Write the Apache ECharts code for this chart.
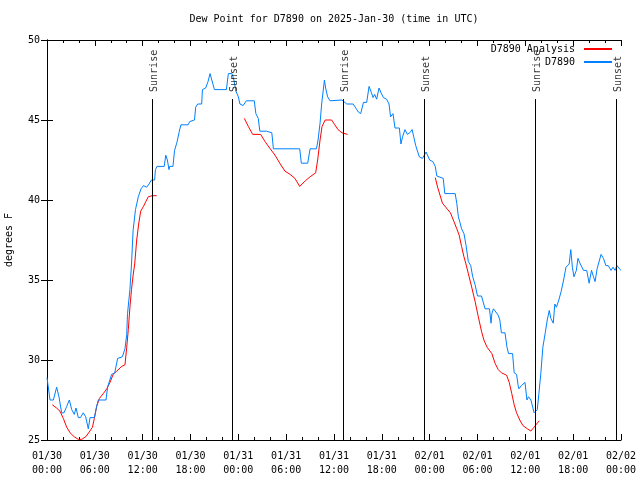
<!DOCTYPE html>
<html><head><meta charset="utf-8">
<script src="https://cdn.jsdelivr.net/npm/echarts@6/dist/echarts.min.js"></script>
<style>html,body{margin:0;padding:0;background:#fff}#c{width:640px;height:480px}</style>
</head><body><div id="c"></div>
<script>
// hours since 2025-01-30 00:00 UTC
const obsHours = [0.0,0.17,0.38,0.8,1.21,1.5,1.84,2.13,2.47,2.8,3.1,3.42,3.64,3.93,4.2,4.55,4.85,5.18,5.4,5.94,6.23,6.44,7.4,7.6,8.1,8.5,8.86,9.45,9.78,10.0,10.1,10.4,10.6,10.8,11.1,11.45,11.8,12.1,12.5,12.8,13.1,13.5,13.6,13.8,14.7,14.9,15.1,15.3,15.4,15.8,16.0,16.3,16.6,16.8,17.7,17.9,18.5,18.65,18.9,19.4,19.5,19.9,20.2,20.45,20.7,21.0,22.5,22.75,23.2,23.45,23.7,24.0,24.2,24.6,25.0,26.0,26.2,26.5,26.7,27.55,28.2,28.4,31.7,31.9,32.7,33.0,33.8,34.0,34.25,34.45,34.8,34.95,35.2,35.5,37.0,37.6,38.4,38.8,39.05,39.35,39.7,40.1,40.4,40.7,40.9,41.1,41.35,41.65,41.9,42.2,42.6,42.9,43.1,43.4,43.65,44.2,44.4,44.6,44.9,45.2,45.5,45.8,46.0,46.25,46.5,46.7,47.1,47.3,47.55,47.75,48.0,48.4,48.7,48.9,49.7,49.9,51.2,51.4,51.6,51.8,52.0,52.3,52.55,52.85,53.15,53.4,53.7,54.0,54.5,54.75,54.95,55.5,55.7,55.8,56.0,56.3,56.6,56.8,57.0,57.45,57.7,57.9,58.4,58.6,58.9,59.1,59.2,59.5,59.7,59.96,60.2,60.4,60.7,60.95,61.1,61.35,61.5,61.7,61.95,62.2,62.5,62.75,63.0,63.2,63.5,63.7,63.9,64.2,64.5,64.8,65.1,65.5,65.7,65.9,66.1,66.4,66.6,66.9,67.3,67.7,68.0,68.3,68.55,68.75,69.0,69.25,69.5,69.8,70.1,70.4,70.75,71.0,71.25,71.5,71.8,72.0];
const obsValues = [28.9,28.86,27.5,27.5,28.3,27.7,26.7,26.7,27.1,27.5,26.9,26.6,27.0,26.4,26.4,26.7,26.45,25.7,26.4,26.4,27.1,27.5,27.5,28.3,29.1,29.2,30.1,30.2,30.7,31.6,32.9,34.4,36.0,38.1,39.4,40.2,40.7,40.9,40.8,41.0,41.25,41.25,41.9,42.1,42.1,42.8,42.5,41.9,42.1,42.1,43.1,43.6,44.3,44.7,44.7,44.9,45.0,45.8,46.0,46.0,46.9,47.0,47.4,47.9,47.9,46.9,46.9,47.9,47.9,47.5,46.8,46.45,46.0,45.9,46.2,46.2,45.4,45.1,44.3,44.3,44.2,43.2,43.2,42.3,42.3,43.2,43.2,43.75,44.8,46.0,47.5,47.0,46.45,46.2,46.25,46.0,46.0,45.7,45.5,45.4,46.1,46.1,47.1,46.7,46.4,46.6,46.3,47.0,46.7,46.4,46.3,46.0,45.2,45.4,44.5,44.5,43.5,43.95,44.4,44.1,44.2,44.4,43.95,43.4,43.3,42.7,42.6,42.5,43.0,43.1,42.5,42.4,42.1,41.5,41.35,40.4,40.4,39.8,38.95,38.6,38.2,37.9,37.2,36.15,35.9,35.2,34.7,34.0,34.0,34.1,33.2,33.2,32.3,32.9,33.2,33.0,32.8,32.5,31.7,31.7,30.8,30.4,30.4,29.2,29.1,28.4,28.2,28.4,28.4,28.6,27.5,27.7,27.5,27.4,26.7,26.7,26.9,27.9,29.2,30.8,31.7,32.5,33.1,32.6,32.3,33.5,33.3,33.75,34.3,35.0,35.8,36.0,36.9,35.8,35.2,35.6,36.35,36.0,35.6,35.6,34.8,35.6,35.2,34.9,35.7,35.8,36.6,36.35,35.9,35.9,35.6,35.8,35.6,35.9,35.7,35.6];
const anaHours = [0.67,1.2,1.63,2.05,2.47,2.9,3.42,3.93,4.35,4.85,5.3,5.7,5.94,6.23,6.57,7.06,7.5,7.9,8.3,8.74,9.37,9.78,10.0,10.2,10.4,10.6,10.8,11.0,11.25,11.5,11.75,12.1,12.4,12.7,13.2,13.75,
  18.0,
  24.75,25.25,25.8,26.8,27.35,28.0,28.6,29.2,29.85,30.5,31.1,31.7,32.4,33.0,33.7,33.95,34.25,34.5,34.9,35.7,36.1,36.5,37.0,37.7,
  43.0,
  48.7,49.0,49.3,49.6,50.1,50.6,51.05,51.4,51.7,52.0,52.3,52.55,52.85,53.3,53.7,54.1,54.5,54.8,55.2,55.8,56.2,56.6,57.0,57.65,57.98,58.3,58.6,58.9,59.3,59.7,60.25,60.7,61.1,61.4,61.75];
const anaValues = [27.2,27.0,26.8,26.35,25.8,25.45,25.2,25.04,25.04,25.2,25.5,25.8,26.35,27.1,27.6,27.9,28.2,28.6,29.1,29.3,29.6,29.7,30.8,31.9,33.3,34.4,35.3,36.0,37.5,38.5,39.3,39.6,39.9,40.2,40.27,40.27,
  null,
  45.1,44.6,44.1,44.1,43.65,43.2,42.8,42.3,41.8,41.6,41.35,40.85,41.2,41.45,41.7,42.5,43.75,44.6,45.0,45.0,44.7,44.4,44.2,44.1,
  null,
  41.4,40.8,40.3,39.8,39.5,39.2,38.65,38.2,37.8,37.1,36.45,36.0,35.4,34.5,33.65,32.7,31.8,31.25,30.8,30.4,29.8,29.4,29.2,29.05,28.6,27.9,27.2,26.7,26.25,25.9,25.7,25.56,25.8,26.0,26.2];
const sunHours = [13.26, 23.25, 37.17, 47.33, 61.25, 71.46];
const sunLabels = ['Sunrise','Sunset','Sunrise','Sunset','Sunrise','Sunset'];
const xTickLabels = ['01/30\n00:00','01/30\n06:00','01/30\n12:00','01/30\n18:00','01/31\n00:00','01/31\n06:00','01/31\n12:00','01/31\n18:00','02/01\n00:00','02/01\n06:00','02/01\n12:00','02/01\n18:00','02/02\n00:00'];

const FONT = 'DejaVu Sans Mono';
const zip = (a, b) => a.map((h, i) => [h, b[i] === null ? '-' : b[i]]);
const sunLineTop = 46.31, sunTextStart = 46.69;

const baseX = {
  type: 'value', min: 0, max: 72, interval: 6,
  axisLine: { show: true, lineStyle: { color: '#000', width: 1 } },
  axisTick: { show: true, inside: true, length: 6, lineStyle: { color: '#000' } },
  minorTick: { show: true, splitNumber: 3, length: 3, lineStyle: { color: '#000' } },
  splitLine: { show: false }
};
const baseY = {
  type: 'value', min: 25, max: 50, interval: 5,
  axisLine: { show: true, lineStyle: { color: '#000', width: 1 } },
  axisTick: { show: true, inside: true, length: 6, lineStyle: { color: '#000' } },
  splitLine: { show: false }
};

const chart = echarts.init(document.getElementById('c'));
chart.setOption({
  animation: false,
  backgroundColor: '#fff',
  title: {
    text: 'Dew Point for D7890 on 2025-Jan-30 (time in UTC)',
    left: 334, top: 14, textAlign: 'center', padding: 0,
    textStyle: { fontFamily: FONT, fontSize: 10, fontWeight: 'normal', color: '#000' }
  },
  legend: {
    data: ['D7890 Analysis', 'D7890'],
    orient: 'vertical', right: 27, top: 44, align: 'right', padding: 0,
    itemWidth: 28, itemHeight: 12, itemGap: 3,
    itemStyle: { opacity: 0 },
    textStyle: { fontFamily: FONT, fontSize: 10, color: '#000', width: 86, align: 'right', padding: [0, 4, 0, 0] }
  },
  grid: { left: 47, right: 19, top: 40, bottom: 40, containLabel: false, outerBoundsMode: 'none' },
  xAxis: [
    Object.assign({}, baseX, {
      position: 'bottom',
      axisLabel: {
        fontFamily: FONT, fontSize: 10, color: '#000', margin: 9, lineHeight: 14,
        formatter: v => xTickLabels[Math.round(v / 6)]
      }
    }),
    Object.assign({}, baseX, { position: 'top', axisLabel: { show: false } })
  ],
  yAxis: [
    Object.assign({}, baseY, {
      position: 'left',
      name: 'degrees F', nameLocation: 'middle', nameGap: 33,
      nameTextStyle: { fontFamily: FONT, fontSize: 10, color: '#000' },
      axisLabel: { fontFamily: FONT, fontSize: 10, color: '#000', margin: 7 }
    }),
    Object.assign({}, baseY, { position: 'right', axisLabel: { show: false } })
  ],
  series: [
    {
      name: 'D7890 Analysis', type: 'line', data: zip(anaHours, anaValues),
      showSymbol: false, symbol: 'none', connectNulls: false,
      lineStyle: { color: '#ff0000', width: 1 }, itemStyle: { color: '#ff0000' }, z: 2
    },
    {
      name: 'D7890', type: 'line', data: zip(obsHours, obsValues),
      showSymbol: false, symbol: 'none',
      lineStyle: { color: '#0080ff', width: 1 }, itemStyle: { color: '#0080ff' }, z: 3
    },
    {
      name: 'sun', type: 'scatter', silent: true,
      data: sunHours.map((h, i) => ({ value: [h, sunTextStart], label: { formatter: sunLabels[i] } })),
      symbolSize: 1, itemStyle: { color: 'rgba(0,0,0,0)' },
      label: {
        show: true, position: 'inside', rotate: 90, align: 'left', verticalAlign: 'middle',
        fontFamily: FONT, fontSize: 10, color: '#000', offset: [1, 2]
      },
      markLine: {
        silent: true, symbol: ['none', 'none'], label: { show: false },
        lineStyle: { color: '#000', width: 1, type: 'solid' },
        data: sunHours.map(h => [{ coord: [h, 25] }, { coord: [h, sunLineTop] }])
      },
      z: 4
    }
  ]
});
</script>
</body></html>
